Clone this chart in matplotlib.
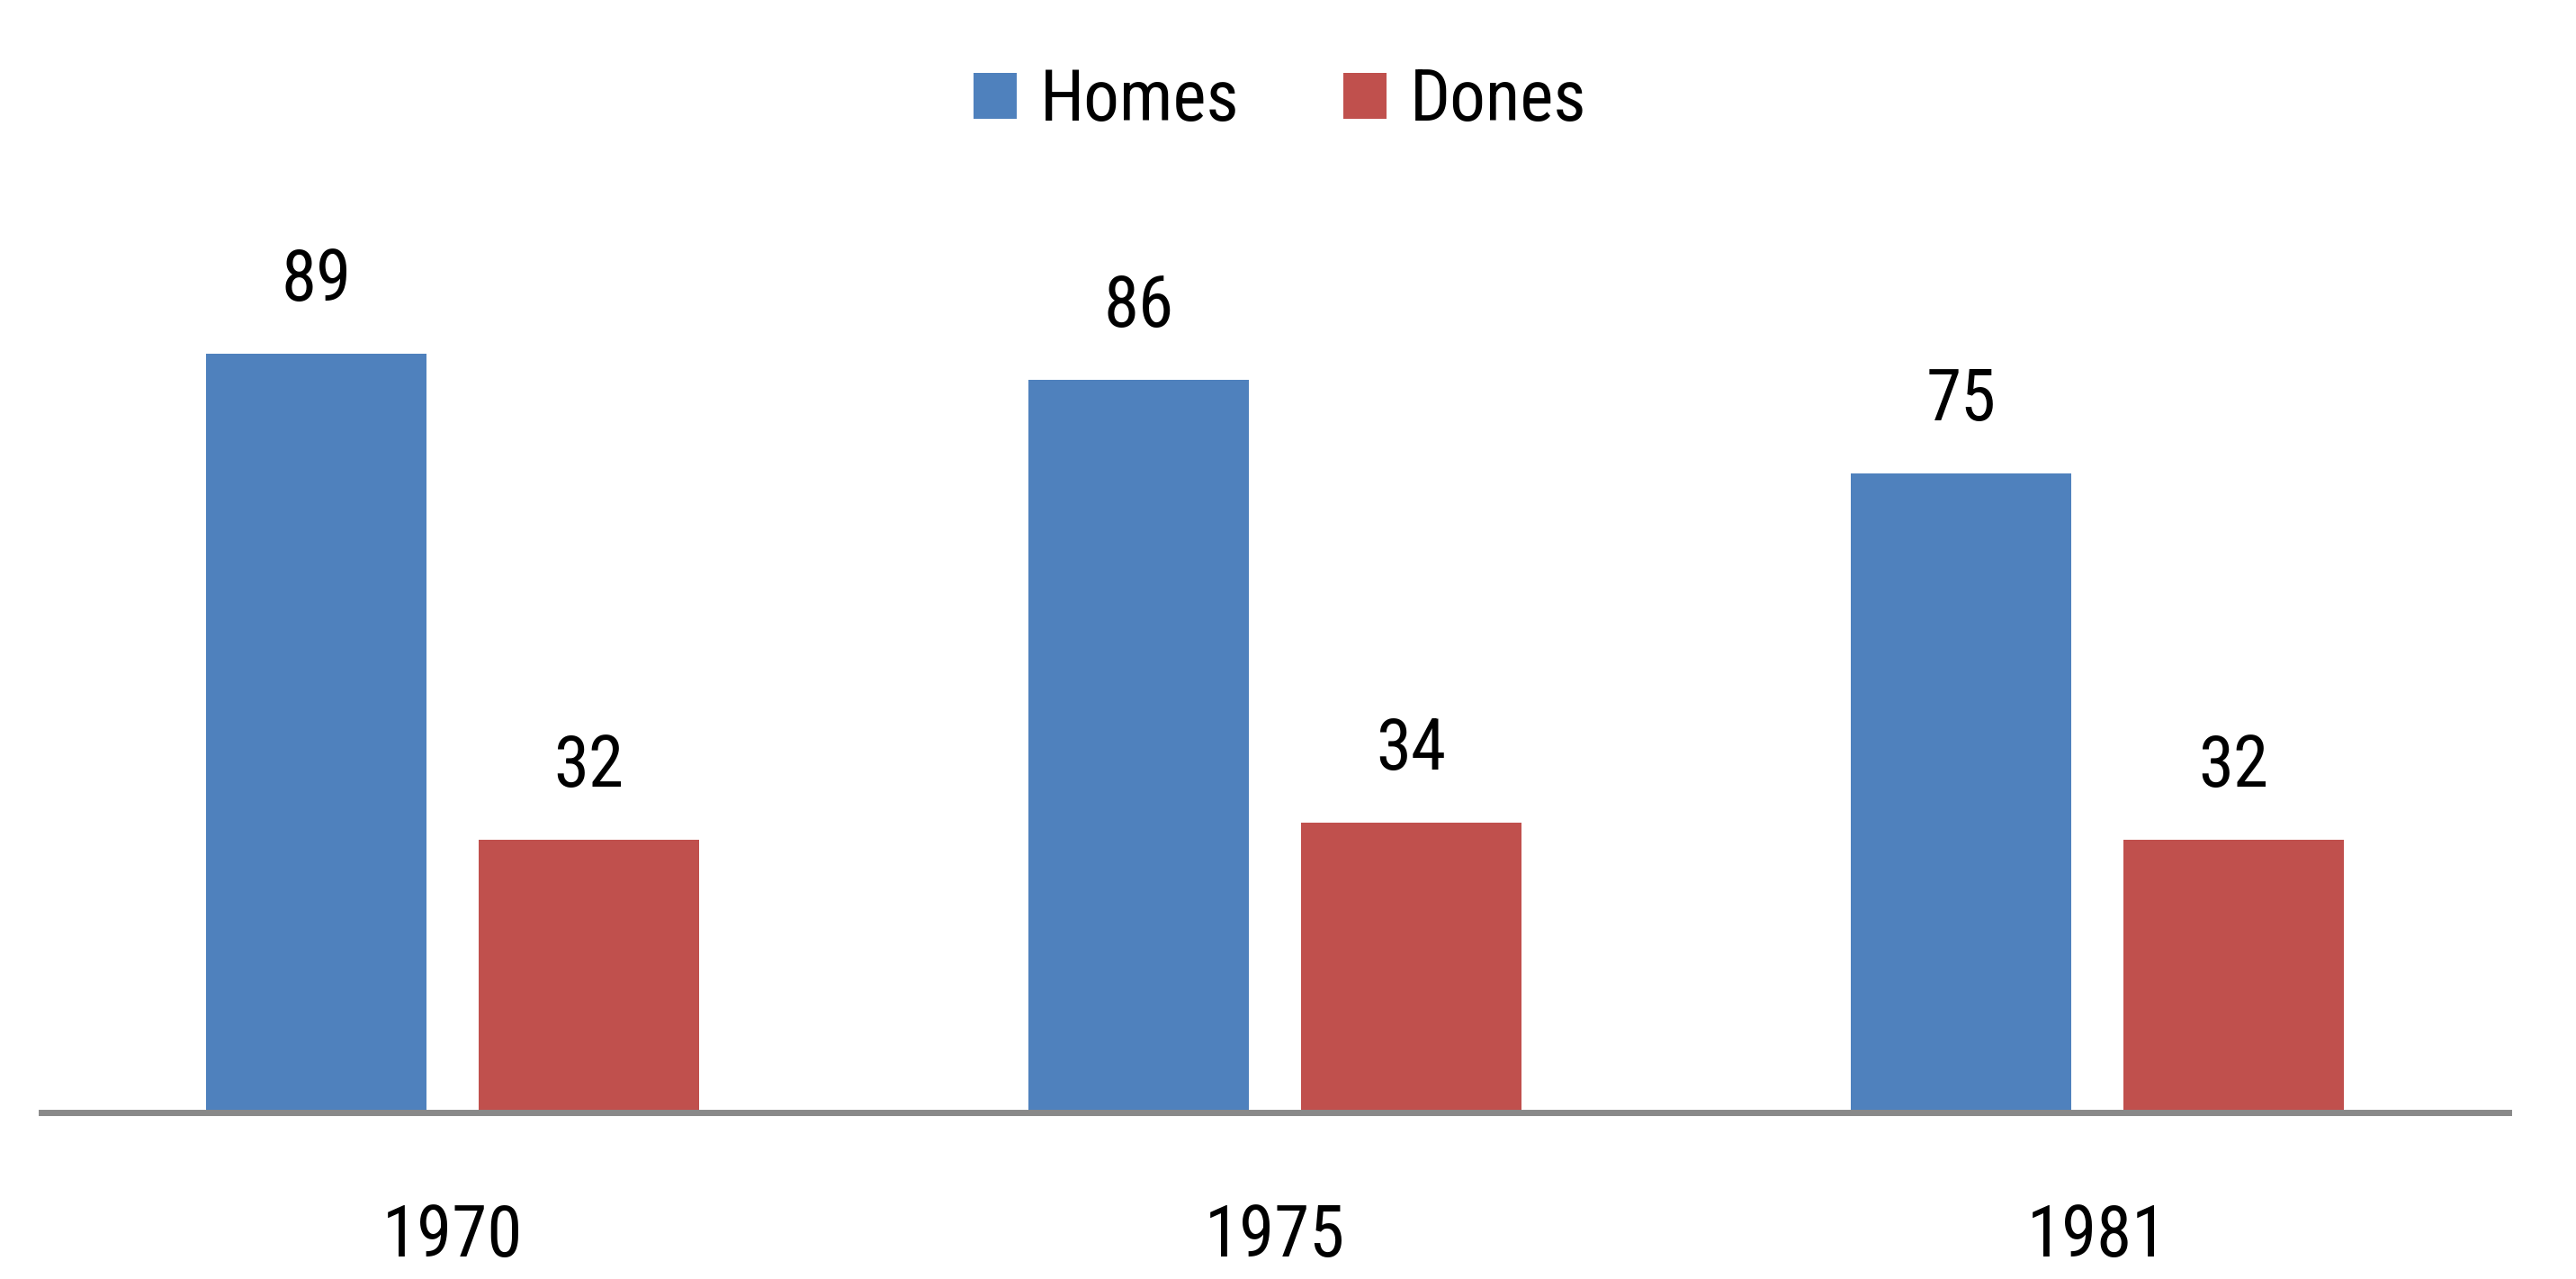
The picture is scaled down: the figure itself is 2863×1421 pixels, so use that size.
import matplotlib
matplotlib.use("Agg")
import matplotlib.pyplot as plt
import numpy as np

plt.rcParams["font.family"] = ["Roboto Condensed", "Liberation Sans Narrow", "Liberation Sans", "DejaVu Sans"]

years = ["1970", "1975", "1981"]
homes = [89, 86, 75]
dones = [32, 34, 32]

BLUE = "#4F81BD"
RED = "#C0504D"
FS = 57

fig = plt.figure(figsize=(28.63, 14.21), dpi=100)
ax = fig.add_axes([0.0161, 0.1302, 0.9577, 0.6664])

x = np.arange(len(years))
w = 0.268
off = 0.1658
b1 = ax.bar(x - off, homes, w, color=BLUE, label="Homes", zorder=2)
b2 = ax.bar(x + off, dones, w, color=RED, label="Dones", zorder=2)

# etykiety wartości nad słupkami
for bars in (b1, b2):
    for r in bars:
        ax.annotate(f"{r.get_height():.0f}", (r.get_x() + r.get_width() / 2, r.get_height()),
                    xytext=(0, 31), textcoords="offset points", ha="center", va="bottom",
                    fontsize=FS)

ax.set_xlim(-0.5, 2.5)
ax.set_ylim(0, 100)
ax.set_xticks(x)
ax.set_xticklabels(years, fontsize=FS)
ax.tick_params(axis="x", length=0, pad=72)
ax.set_yticks([])
for s in ["top", "right", "left"]:
    ax.spines[s].set_visible(False)
ax.spines["bottom"].set_color("#898989")
ax.spines["bottom"].set_linewidth(5)
ax.spines["bottom"].set_zorder(3)

fig.legend(loc="center", bbox_to_anchor=(0.497, 0.921), ncol=2, frameon=False,
           fontsize=FS, handlelength=0.6, handleheight=0.62, handletextpad=0.33,
           columnspacing=1.46)

fig.savefig("out.png", dpi=100)
